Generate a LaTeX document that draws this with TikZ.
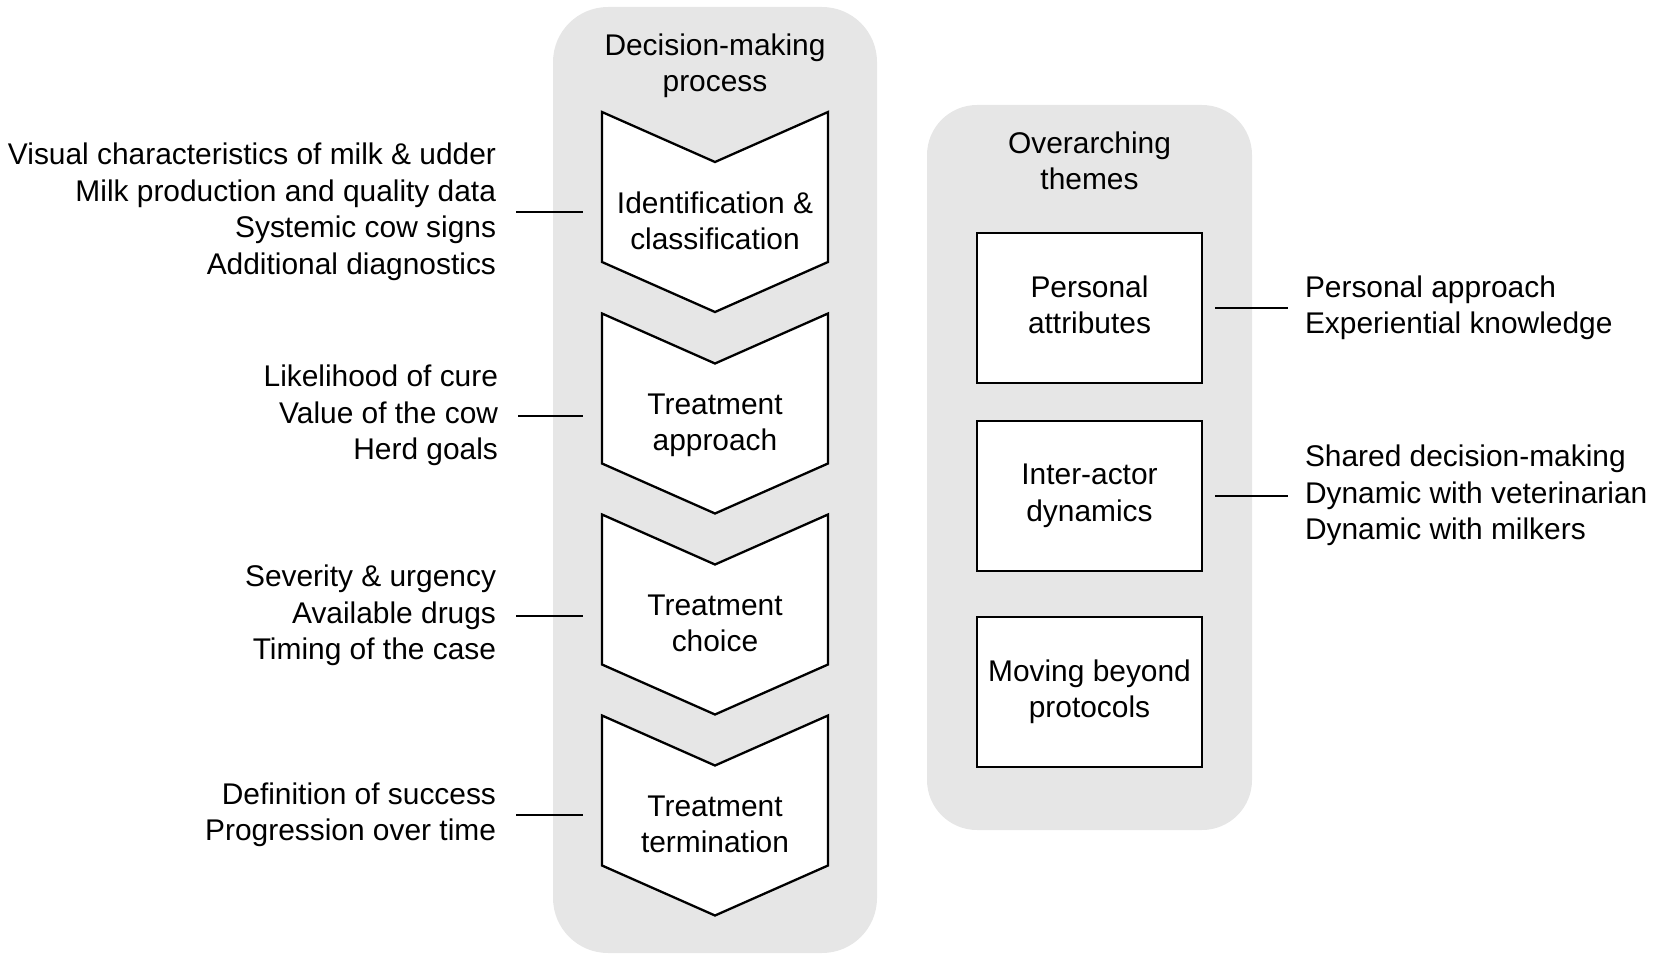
\documentclass[tikz,border=0pt]{standalone}
\usepackage{fontspec}
\setmainfont{Liberation Sans}
\definecolor{panel}{RGB}{230,230,230}
\newcommand\fl{\rule[-7pt]{0pt}{28pt}}
\tikzset{
  every node/.style={font=\fontsize{29.9}{36.5}\selectfont, inner sep=0pt, outer sep=0pt},
  panelbox/.style={fill=panel, rounded corners=55pt},
  chev/.style={minimum width=226pt, minimum height=200pt},
  chevline/.style={draw=black, fill=white, line width=2.3pt, line join=miter},
  themebox/.style={draw=black, fill=white, line width=2.3pt, minimum width=225pt, minimum height=150pt, align=center},
  conn/.style={draw=black, line width=2pt},
}
\begin{document}
\begin{tikzpicture}[x=1pt,y=-1pt]
\useasboundingbox (0,0) rectangle (1653,960);
% panels
\node[panelbox, minimum width=324pt, minimum height=946pt] (P1) at (715,480) {};
\node[panelbox, minimum width=325pt, minimum height=725pt, rounded corners=50pt] (P2) at (1089.5,467.5) {};
% titles
\node[align=center] (h1) at (715,66) {\fl Decision-making\\process\fl};
\node[align=center] (h2) at (1089.5,164) {\fl Overarching\\themes\fl};
% chevrons
\node[chev] (c1) at (715,212) {};
\node[chev] (c2) at (715,413.5) {};
\node[chev] (c3) at (715,614.5) {};
\node[chev] (c4) at (715,815.5) {};
\foreach \c in {c1,c2,c3,c4}{
  \draw[chevline] (\c.north west) -- ([yshift=-50pt]\c.north) -- (\c.north east)
    -- ([yshift=50pt]\c.south east) -- (\c.south) -- ([yshift=50pt]\c.south west) -- cycle;
}
\node[align=center] (t1) at ([yshift=-12pt]c1.center) {\fl Identification \&\\classification\fl};
\node[align=center] (t2) at ([yshift=-12pt]c2.center) {\fl Treatment\\approach\fl};
\node[align=center] (t3) at ([yshift=-12pt]c3.center) {\fl Treatment\\choice\fl};
\node[align=center] (t4) at ([yshift=-12pt]c4.center) {\fl Treatment\\termination\fl};
% left factors
\node[align=right, anchor=east] (l1) at (496,212) {\fl Visual characteristics of milk \& udder\\Milk production and quality data\\Systemic cow signs\\Additional diagnostics\fl};
\node[align=right, anchor=east] (l2) at (498,416) {\fl Likelihood of cure\\Value of the cow\\Herd goals\fl};
\node[align=right, anchor=east] (l3) at (496,616) {\fl Severity \& urgency\\Available drugs\\Timing of the case\fl};
\node[align=right, anchor=east] (l4) at (496,815) {\fl Definition of success\\Progression over time\fl};
\foreach \i in {1,2,3,4}{
  \draw[conn, shorten <=20pt, shorten >=19pt] (l\i.east) -- (l\i.east -| c\i.west);
}
% theme boxes
\node[themebox] (b1) at (1089.5,308) {\fl Personal\\attributes\fl};
\node[themebox] (b2) at (1089.5,496) {\fl Inter-actor\\dynamics\fl};
\node[themebox] (b3) at (1089.5,692) {\fl Moving beyond\\protocols\fl};
% right factors
\node[align=left, anchor=west] (r1) at ([xshift=103pt]b1.east) {\fl Personal approach\\Experiential knowledge\fl};
\node[align=left, anchor=west] (r2) at ([xshift=103pt]b2.east) {\fl Shared decision-making\\Dynamic with veterinarian\\Dynamic with milkers\fl};
\draw[conn, shorten <=13pt, shorten >=17pt] (b1.east) -- (r1.west |- b1.east);
\draw[conn, shorten <=13pt, shorten >=17pt] (b2.east) -- (r2.west |- b2.east);
\end{tikzpicture}
\end{document}
